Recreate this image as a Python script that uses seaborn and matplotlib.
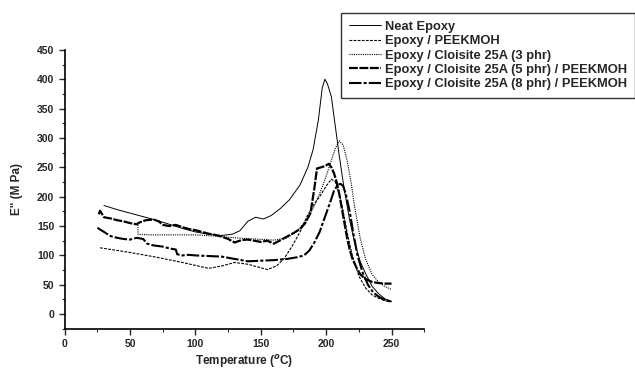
import matplotlib
matplotlib.use("Agg")
import matplotlib.pyplot as plt
import seaborn as sns
import pandas as pd
from matplotlib.ticker import MultipleLocator

# ---- data ----
labels = ["Neat Epoxy", "Epoxy / PEEKMOH", "Epoxy / Cloisite 25A (3 phr)",
          "Epoxy / Cloisite 25A (5 phr) / PEEKMOH", "Epoxy / Cloisite 25A (8 phr) / PEEKMOH"]

T_neat = [30, 40, 50, 60, 70, 80, 90, 100, 110, 120, 128, 134, 140, 146, 152, 158, 165, 172,
          180, 186, 190, 194, 197, 199, 201, 204, 207, 210, 214, 218, 222, 226, 230, 235, 240, 245, 250]
E_neat = [185, 178, 172, 166, 160, 153, 146, 140, 136, 134, 136, 142, 158, 165, 162, 168, 180, 195,
          220, 250, 280, 330, 385, 400, 392, 370, 320, 270, 210, 160, 120, 90, 70, 48, 35, 26, 22]

T_peek = [27, 50, 70, 90, 110, 120, 130, 140, 155, 162, 168, 174, 180, 185, 190, 195, 200, 204,
          207, 210, 213, 216, 220, 225, 230, 235, 240, 245, 250]
E_peek = [113, 105, 97, 88, 78, 82, 88, 85, 76, 82, 95, 116, 140, 165, 185, 200, 218, 230,
          225, 205, 175, 140, 100, 65, 45, 33, 27, 23, 21]

T_3phr = [56, 56, 65, 80, 100, 115, 130, 145, 160, 170, 178, 185, 190, 195, 200, 204, 207, 210,
          213, 216, 219, 222, 226, 230, 235, 240, 245, 250]
E_3phr = [156, 136, 135, 135, 135, 133, 130, 128, 126, 130, 142, 160, 180, 205, 235, 262, 282, 295,
          288, 262, 225, 180, 130, 95, 68, 55, 47, 42]

T_5phr = [26, 27, 30, 35, 40, 45, 50, 55, 57, 62, 68, 72, 75, 80, 85, 90, 95, 100, 105, 110, 115,
          120, 125, 130, 135, 140, 145, 150, 155, 160, 165, 170, 175, 180, 184, 188, 191, 193, 196,
          199, 202, 204, 206, 208, 210, 212, 214, 216, 218, 220, 223, 226, 230, 235, 240, 245, 250]
E_5phr = [170, 176, 165, 163, 160, 158, 155, 153, 156, 160, 161, 158, 152, 150, 152, 148, 145, 143,
          140, 137, 135, 132, 128, 122, 126, 127, 125, 123, 125, 120, 126, 132, 138, 145, 155, 172,
          215, 248, 250, 252, 256, 250, 240, 225, 205, 180, 155, 130, 110, 95, 80, 68, 60, 55, 53,
          52, 52]

T_8phr = [25, 30, 35, 40, 45, 50, 55, 60, 63, 68, 75, 80, 85, 86, 90, 95, 100, 110, 120, 125, 130,
          140, 150, 160, 170, 178, 183, 187, 191, 195, 199, 203, 206, 209, 211, 213, 215, 218, 221,
          224, 228, 232, 236, 240, 245, 250]
E_8phr = [147, 140, 133, 130, 128, 127, 130, 128, 120, 117, 115, 112, 110, 102, 100, 101, 100, 99,
          98, 96, 94, 90, 91, 92, 94, 97, 100, 108, 122, 140, 165, 190, 210, 220, 222, 218, 205,
          175, 135, 100, 70, 50, 37, 30, 24, 21]

x_ticks = [0, 50, 100, 150, 200, 250]
y_ticks = [0, 50, 100, 150, 200, 250, 300, 350, 400, 450]

# ---- plot ----
sns.set_style("ticks")
plt.rcParams["font.family"] = ["Liberation Sans", "DejaVu Sans"]
plt.rcParams["font.weight"] = "bold"

fig = plt.figure(figsize=(6.35, 3.72), dpi=100)
ax = fig.add_axes([0.102, 0.116, 0.566, 0.75])

series = [(T_neat, E_neat), (T_peek, E_peek), (T_3phr, E_3phr), (T_5phr, E_5phr), (T_8phr, E_8phr)]
styles = [dict(linestyle="-", linewidth=0.7),
          dict(linestyle=(0, (2.5, 1.2)), linewidth=0.8),
          dict(linestyle=(0, (1, 1)), linewidth=0.8),
          dict(linestyle=(0, (4, 0.7)), linewidth=1.6),
          dict(linestyle=(0, (6, 1, 1.5, 1)), linewidth=1.5)]

for (t, e), lab, st in zip(series, labels, styles):
    df = pd.DataFrame({"T": t, "E": e})
    sns.lineplot(data=df, x="T", y="E", ax=ax, color="black", label=lab, sort=False,
                 estimator=None, **st)

ax.set_xlim(0, 275)
ax.set_ylim(-25, 450)
ax.set_xticks(x_ticks)
ax.set_yticks(y_ticks)
ax.xaxis.set_minor_locator(MultipleLocator(25))
ax.yaxis.set_minor_locator(MultipleLocator(25))
ax.tick_params(axis="both", which="major", direction="out", length=4, width=1, labelsize=7.5)
ax.tick_params(axis="both", which="minor", direction="out", length=2, width=0.8)
for lab in ax.get_xticklabels() + ax.get_yticklabels():
    lab.set_fontweight("bold")
sns.despine(ax=ax)
for sp in ["left", "bottom"]:
    ax.spines[sp].set_linewidth(1.2)
    ax.spines[sp].set_color("black")

ax.set_xlabel("Temperature ($^{o}$C)", fontsize=8.5, fontweight="bold", labelpad=3)
ax.set_ylabel('E" (M Pa)', fontsize=8.5, fontweight="bold", labelpad=10)

leg = ax.legend(loc="upper left", bbox_to_anchor=(0.537, 0.965), bbox_transform=fig.transFigure,
                fontsize=9.3, frameon=True, fancybox=False, handlelength=2.5,
                labelspacing=0.18, borderpad=0.6, handletextpad=0.3, borderaxespad=0)
leg.get_frame().set_edgecolor("black")
leg.get_frame().set_linewidth(1.0)
for txt in leg.get_texts():
    txt.set_fontweight("bold")

fig.savefig("out.png", dpi=100)
